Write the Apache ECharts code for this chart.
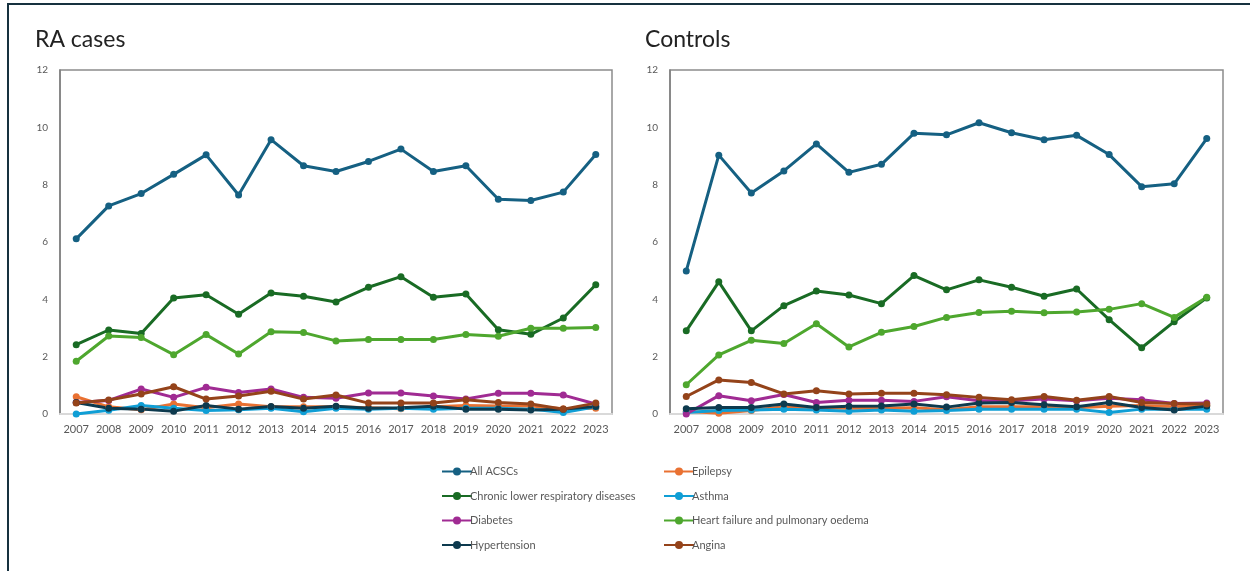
<!DOCTYPE html>
<html>
<head>
<meta charset="utf-8">
<script src="https://cdn.jsdelivr.net/npm/echarts@6/dist/echarts.min.js"></script>
<style>
  html, body { margin: 0; padding: 0; background: #fff; }
  #main { width: 1250px; height: 571px; position: relative; }
  .frame { position: absolute; left: 7px; top: 3px; width: 1300px; height: 600px;
    border-top: 2px solid #16313f; border-left: 2px solid #16313f; pointer-events: none; }
</style>
</head>
<body>
<div id="main"></div>
<div class="frame"></div>
<script>
const years = ['2007','2008','2009','2010','2011','2012','2013','2014','2015','2016','2017','2018','2019','2020','2021','2022','2023']
const names = ['All ACSCs', 'Epilepsy', 'Chronic lower respiratory diseases', 'Asthma',
  'Diabetes', 'Heart failure and pulmonary oedema', 'Hypertension', 'Angina']
const colors = ['#156082', '#E97132', '#196B24', '#0F9ED5', '#A02B93', '#4EA72E', '#0D3A4E', '#94431A']

// RA cases
const raAll = [6.11, 7.26, 7.69, 8.36, 9.04, 7.64, 9.57, 8.66, 8.46, 8.81, 9.24, 8.46, 8.66, 7.49, 7.45, 7.74, 9.05]
const raEpilepsy = [0.6, 0.25, 0.15, 0.35, 0.22, 0.35, 0.25, 0.25, 0.25, 0.22, 0.18, 0.25, 0.3, 0.28, 0.28, 0.18, 0.2]
const raChronic = [2.42, 2.93, 2.81, 4.05, 4.16, 3.48, 4.22, 4.11, 3.91, 4.42, 4.79, 4.07, 4.19, 2.94, 2.78, 3.35, 4.51]
const raAsthma = [0.0, 0.13, 0.3, 0.2, 0.12, 0.15, 0.2, 0.08, 0.2, 0.17, 0.2, 0.17, 0.2, 0.2, 0.17, 0.05, 0.25]
const raDiabetes = [0.4, 0.47, 0.87, 0.58, 0.93, 0.75, 0.87, 0.58, 0.55, 0.73, 0.73, 0.63, 0.52, 0.72, 0.72, 0.66, 0.35]
const raHeart = [1.84, 2.72, 2.67, 2.07, 2.77, 2.09, 2.87, 2.84, 2.55, 2.6, 2.6, 2.6, 2.77, 2.71, 2.99, 2.99, 3.02]
const raHyper = [0.4, 0.2, 0.17, 0.1, 0.3, 0.17, 0.26, 0.2, 0.27, 0.2, 0.22, 0.27, 0.17, 0.17, 0.14, 0.17, 0.26]
const raAngina = [0.38, 0.49, 0.7, 0.95, 0.52, 0.63, 0.79, 0.52, 0.66, 0.38, 0.38, 0.38, 0.5, 0.4, 0.35, 0.17, 0.38]

// Controls
const ctAll = [4.99, 9.03, 7.71, 8.48, 9.42, 8.43, 8.71, 9.79, 9.74, 10.16, 9.81, 9.57, 9.72, 9.05, 7.93, 8.03, 9.61]
const ctEpilepsy = [0.1, 0.03, 0.12, 0.25, 0.22, 0.2, 0.2, 0.22, 0.15, 0.25, 0.25, 0.25, 0.22, 0.27, 0.3, 0.25, 0.3]
const ctChronic = [2.9, 4.61, 2.9, 3.78, 4.29, 4.15, 3.85, 4.83, 4.33, 4.68, 4.42, 4.11, 4.36, 3.29, 2.31, 3.22, 4.05]
const ctAsthma = [0.05, 0.12, 0.14, 0.17, 0.14, 0.1, 0.14, 0.1, 0.12, 0.17, 0.17, 0.17, 0.17, 0.05, 0.17, 0.17, 0.17]
const ctDiabetes = [0.0, 0.64, 0.46, 0.68, 0.4, 0.48, 0.48, 0.44, 0.6, 0.46, 0.46, 0.52, 0.46, 0.55, 0.5, 0.37, 0.38]
const ctHeart = [1.02, 2.06, 2.57, 2.46, 3.15, 2.34, 2.85, 3.05, 3.37, 3.54, 3.58, 3.53, 3.56, 3.65, 3.85, 3.37, 4.07]
const ctHyper = [0.18, 0.23, 0.23, 0.35, 0.23, 0.27, 0.28, 0.35, 0.24, 0.38, 0.4, 0.32, 0.25, 0.4, 0.23, 0.14, 0.28]
const ctAngina = [0.61, 1.19, 1.1, 0.7, 0.81, 0.7, 0.72, 0.72, 0.67, 0.58, 0.5, 0.61, 0.48, 0.61, 0.4, 0.37, 0.35]

const yTicks = [0, 2, 4, 6, 8, 10, 12]

const raData = [raAll, raEpilepsy, raChronic, raAsthma, raDiabetes, raHeart, raHyper, raAngina]
const ctData = [ctAll, ctEpilepsy, ctChronic, ctAsthma, ctDiabetes, ctHeart, ctHyper, ctAngina]

const font = 'Lato, "Liberation Sans", sans-serif'
const chart = echarts.init(document.getElementById('main'))

const makeX = i => ({
  type: 'category',
  gridIndex: i,
  data: years,
  boundaryGap: true,
  axisTick: { show: false },
  axisLine: { lineStyle: { color: '#d9d9d9', width: 2 } },
  axisLabel: { color: '#595959', fontSize: 11, fontFamily: font, margin: 10, interval: 0 }
})
const makeY = i => ({
  type: 'value',
  gridIndex: i,
  min: yTicks[0],
  max: yTicks[yTicks.length - 1],
  interval: 2,
  splitLine: { show: false },
  axisTick: { show: false },
  axisLine: { show: true, lineStyle: { color: '#7f7f7f', width: 1.5 } },
  axisLabel: { color: '#595959', fontSize: 10, fontFamily: font, margin: 12 }
})

const series = []
;[raData, ctData].forEach((set, g) => {
  set.forEach((vals, k) => {
    series.push({
      name: names[k],
      type: 'line',
      xAxisIndex: g,
      yAxisIndex: g,
      data: vals,
      symbol: 'circle',
      symbolSize: 7,
      lineStyle: { width: 3, color: colors[k] },
      itemStyle: { color: colors[k] },
      emphasis: { disabled: true }
    })
  })
})

const legendBase = {
  orient: 'vertical',
  top: 461,
  itemWidth: 30,
  itemHeight: 10,
  itemGap: 13.5,
  selectedMode: false,
  textStyle: { color: '#595959', fontSize: 11, fontFamily: font, padding: [0, 0, 0, -7] }
}

chart.setOption({
  animation: false,
  title: [
    { text: 'RA cases', left: 30, top: 23, textStyle: { fontSize: 23, fontWeight: 'normal', color: '#222', fontFamily: font } },
    { text: 'Controls', left: 640, top: 23, textStyle: { fontSize: 23, fontWeight: 'normal', color: '#222', fontFamily: font } }
  ],
  grid: [
    { left: 60, top: 70, width: 552, height: 344, show: true, borderColor: '#8c8c8c', borderWidth: 1.5, backgroundColor: 'transparent' },
    { left: 670, top: 70, width: 553, height: 344, show: true, borderColor: '#8c8c8c', borderWidth: 1.5, backgroundColor: 'transparent' }
  ],
  xAxis: [makeX(0), makeX(1)],
  yAxis: [makeY(0), makeY(1)],
  legend: [
    Object.assign({}, legendBase, { left: 436, data: [names[0], names[2], names[4], names[6]] }),
    Object.assign({}, legendBase, { left: 658, data: [names[1], names[3], names[5], names[7]] })
  ],
  series: series
})
</script>
</body>
</html>
